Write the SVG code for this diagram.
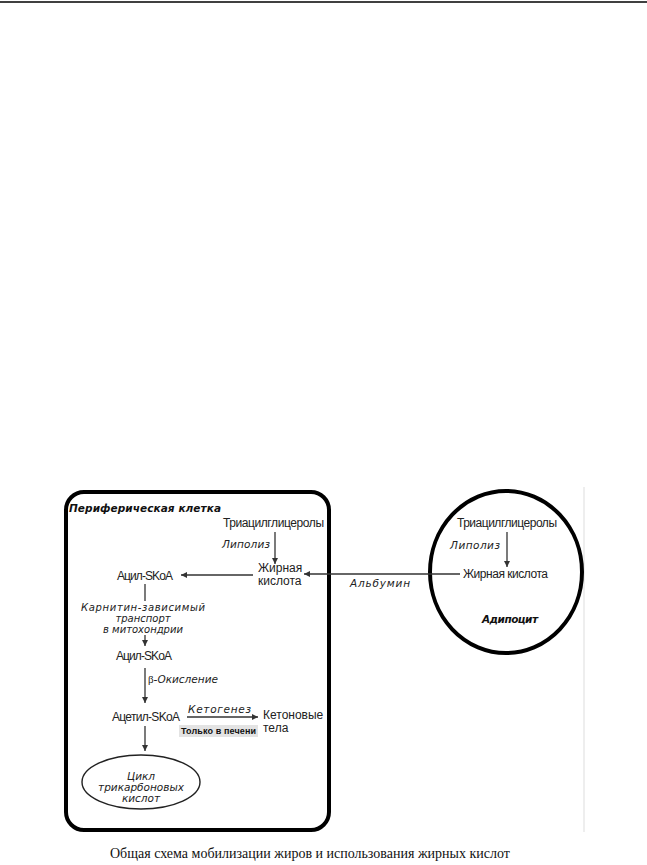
<svg xmlns="http://www.w3.org/2000/svg" width="647" height="865" viewBox="0 0 647 865">
<defs>
<marker id="ah" viewBox="0 0 10 10" refX="10" refY="5" markerWidth="7" markerHeight="6" markerUnits="userSpaceOnUse" orient="auto">
<path d="M0,0 L10,5 L0,10 Z" fill="#333"/>
</marker>
</defs>
<style>
.lbl{font-family:"Liberation Sans",Arial,sans-serif;font-size:12px;fill:#222}
.it{font-family:"DejaVu Sans",Verdana,sans-serif;font-style:italic;font-size:10.5px;fill:#222}
.it2{font-family:"DejaVu Sans",Verdana,sans-serif;font-style:italic;font-size:10px;fill:#222}
.bi{font-family:"DejaVu Sans",Verdana,sans-serif;font-style:italic;font-weight:bold;font-size:10.5px;fill:#111}
.cap{font-family:"Liberation Serif","Times New Roman",serif;font-size:14px;fill:#111}
.ln{stroke:#333;stroke-width:1.3;fill:none}
.ar{stroke:#333;stroke-width:1.3;fill:none;marker-end:url(#ah)}
</style>
<rect width="647" height="865" fill="#fff"/>
<line x1="0" y1="2" x2="647" y2="2" stroke="#000" stroke-width="1.5"/>
<line x1="584" y1="487" x2="584" y2="832" stroke="#ddd" stroke-width="1"/>

<g id="peripheral-cell">
<rect x="66" y="492" width="263" height="338" rx="18" ry="18" fill="none" stroke="#000" stroke-width="4"/>
<text class="bi" x="69" y="512" textLength="152">Периферическая клетка</text>
</g>

<g id="adipocyte">
<ellipse cx="506" cy="572" rx="76" ry="81" fill="none" stroke="#000" stroke-width="4"/>
<text class="bi" x="482" y="623" textLength="56">Адипоцит</text>
</g>

<g id="tag-peri">
<text class="lbl" x="223" y="527" textLength="101">Триацилглицеролы</text>
</g>
<g id="fa-peri">
<text class="lbl" x="258" y="572">Жирная</text>
<text class="lbl" x="258" y="585">кислота</text>
</g>
<g id="acyl1">
<text class="lbl" x="117" y="580" textLength="56">Ацил-SKoA</text>
</g>
<g id="acyl2">
<text class="lbl" x="116" y="660" textLength="56">Ацил-SKoA</text>
</g>
<g id="acetyl">
<text class="lbl" x="112" y="721" textLength="68">Ацетил-SKoA</text>
</g>
<g id="ketone">
<text class="lbl" x="263" y="719">Кетоновые</text>
<text class="lbl" x="263" y="732">тела</text>
</g>
<g id="tca">
<ellipse cx="141" cy="782" rx="59" ry="27" fill="none" stroke="#222" stroke-width="1.4"/>
<text class="it" x="141" y="780" text-anchor="middle">Цикл</text>
<text class="it" x="141" y="791" text-anchor="middle">трикарбоновых</text>
<text class="it" x="141" y="802" text-anchor="middle">кислот</text>
</g>
<g id="tag-adipo">
<text class="lbl" x="457" y="527" textLength="100">Триацилглицеролы</text>
</g>
<g id="fa-adipo">
<text class="lbl" x="463" y="578" textLength="85">Жирная кислота</text>
</g>

<g id="connectors">
<line class="ar" x1="275" y1="532" x2="275" y2="564"/>
<line class="ar" x1="253" y1="575" x2="181" y2="575"/>
<line class="ln" x1="145" y1="584" x2="145" y2="601"/>
<line class="ar" x1="145" y1="635" x2="145" y2="646"/>
<line class="ar" x1="145" y1="668" x2="145" y2="703"/>
<line class="ar" x1="187" y1="717" x2="258" y2="717"/>
<line class="ar" x1="145" y1="726" x2="145" y2="751"/>
<line class="ar" x1="507" y1="532" x2="507" y2="567"/>
<line class="ar" x1="460" y1="574" x2="304" y2="574"/>
</g>

<g id="labels">
<text class="it" x="222" y="548" textLength="48">Липолиз</text>
<text class="it" x="450" y="549" textLength="50">Липолиз</text>
<text class="it" x="380" y="587" text-anchor="middle" textLength="60">Альбумин</text>
<text class="it2" x="143" y="611" text-anchor="middle" textLength="124">Карнитин-зависимый</text>
<text class="it2" x="143" y="622" text-anchor="middle">транспорт</text>
<text class="it2" x="143" y="633" text-anchor="middle">в митохондрии</text>
<text x="148" y="683"><tspan style="font-family:'Liberation Serif',serif;font-size:11px;fill:#222">β</tspan><tspan class="it">-Окисление</tspan></text>
<text class="it" x="188" y="713" textLength="63">Кетогенез</text>
<rect x="179" y="725" width="79" height="12" fill="#e3e3e3"/>
<text x="181" y="734" textLength="75" style="font-family:'Liberation Sans',Arial,sans-serif;font-weight:bold;font-size:9px;fill:#111">Только в печени</text>
</g>

<text class="cap" x="110" y="858">Общая схема мобилизации жиров и использования жирных кислот</text>
</svg>
